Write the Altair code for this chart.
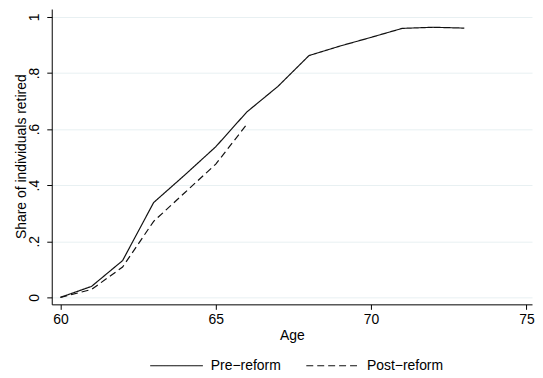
import altair as alt
import pandas as pd

ages_pre = [60, 61, 62, 63, 64, 65, 66, 67, 68, 69, 70, 71, 72, 73]
share_pre = [0.0, 0.039, 0.131, 0.338, 0.436, 0.537, 0.661, 0.752, 0.862, 0.896, 0.927, 0.959, 0.963, 0.960]
ages_post = [60, 61, 62, 63, 64, 65, 66]
share_post = [0.0, 0.028, 0.108, 0.271, 0.373, 0.475, 0.617]
series = ["Pre\u2212reform", "Post\u2212reform"]
x_ticks = [60, 65, 70, 75]
y_ticks = [0, 0.2, 0.4, 0.6, 0.8, 1.0]

rows = []
for a, s in zip(ages_pre, share_pre):
    rows.append({"age": a, "share": s, "group": series[0], "order": 0})
for a, s in zip(ages_post, share_post):
    rows.append({"age": a, "share": s, "group": series[1], "order": 1})
df = pd.DataFrame(rows)

FONT = "Liberation Sans"
FS = 14

chart = alt.Chart(df).mark_line(color="#111111", strokeWidth=1.2).encode(
    x=alt.X("age:Q", title="Age",
            scale=alt.Scale(domain=[59.72, 75.18], nice=False, zero=False),
            axis=alt.Axis(values=x_ticks, grid=False, tickSize=5, labelPadding=3,
                          labelFlush=False, titleBaseline="alphabetic", titleY=35)),
    y=alt.Y("share:Q", title="Share of individuals retired",
            scale=alt.Scale(domain=[-0.025, 1.028], nice=False, zero=False),
            axis=alt.Axis(values=y_ticks, grid=True, gridColor="#e8f0f2", gridWidth=1,
                          tickSize=5, labelAngle=270, labelAlign="center",
                          labelBaseline="alphabetic", labelPadding=8,
                          titleAngle=270, titleBaseline="alphabetic", titleAlign="center",
                          titleX=-26, titleY=148,
                          labelExpr="datum.value == 0 ? '0' : datum.value == 1 ? '1' : replace(format(datum.value, '.1f'), '0.', '.')")),
    strokeDash=alt.StrokeDash("group:N", sort=series,
                              scale=alt.Scale(domain=series, range=[[1, 0], [7, 4]]),
                              legend=alt.Legend(title=None, orient="none", legendX=98, legendY=331,
                                                direction="horizontal", symbolType="stroke",
                                                symbolSize=2809, symbolStrokeWidth=1.2,
                                                symbolStrokeColor="#111111", padding=0,
                                                labelOffset=7, columnPadding=22,
                                                labelFontSize=FS, labelFont=FONT)),
    detail="group:N",
    order="order:Q",
).properties(
    width=483, height=297,
    autosize=alt.AutoSizeParams(type="none"),
    padding={"left": 44, "top": 0, "right": 3, "bottom": 68},
).configure_view(
    stroke=None
).configure_axis(
    domainColor="#000000", tickColor="#000000", labelColor="#000000", titleColor="#000000",
    labelFont=FONT, titleFont=FONT, labelFontSize=FS, titleFontSize=FS,
    titleFontWeight="normal", domainWidth=1, tickWidth=1
).configure_legend(
    labelColor="#000000"
)

chart.save("out.html", embed_options={"renderer": "svg", "actions": False})
